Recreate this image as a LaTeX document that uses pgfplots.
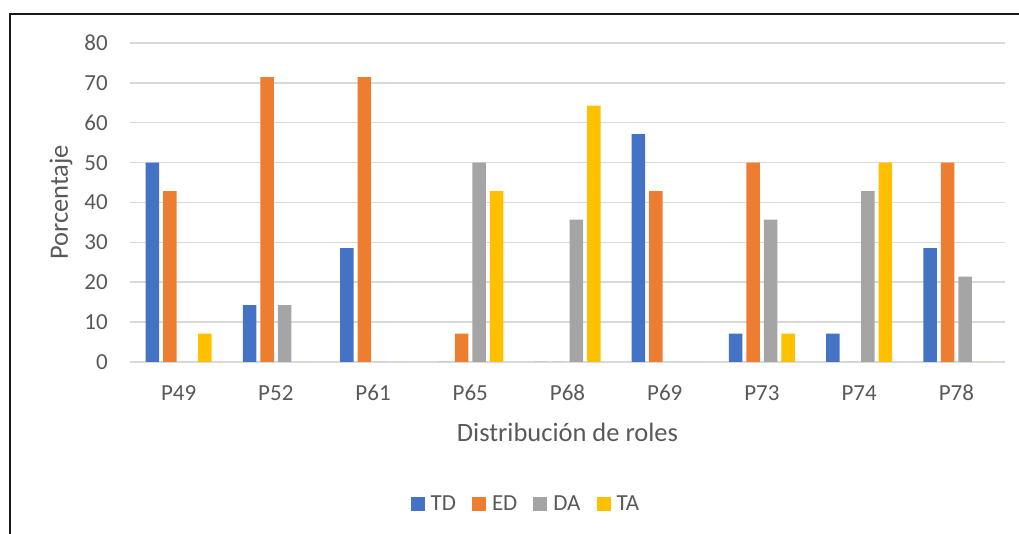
\documentclass[border=0pt]{standalone}
\usepackage{fontspec}
\setmainfont{Carlito}
\usepackage{pgfplots}
\usepackage{pgfplotstable}
\pgfplotsset{compat=1.18}

\definecolor{tdblue}{HTML}{4472C4}
\definecolor{edorange}{HTML}{ED7D31}
\definecolor{dagray}{HTML}{A5A5A5}
\definecolor{tayellow}{HTML}{FFC000}
\definecolor{gridgray}{HTML}{D9D9D9}
\definecolor{txtgray}{HTML}{595959}

% percentages per question (P49 ... P78)
\pgfplotstableread{
x  TD     ED     DA     TA
0  50.00  42.86  0      7.14
1  14.29  71.43  14.29  0
2  28.57  71.43  0      0
3  0      7.14   50.00  42.86
4  0      0      35.71  64.29
5  57.14  42.86  0      0
6  7.14   50.00  35.71  7.14
7  7.14   0      42.86  50.00
8  28.57  50.00  21.43  0
}\roles

\begin{document}
\begin{tikzpicture}
\begin{axis}[
  at={(0pt,0pt)}, anchor=south west,
  scale only axis,
  width=875pt, height=319pt,
  ybar=4pt, bar width=13.5pt,
  xmin=-0.5, xmax=8.5,
  ymin=0, ymax=80,
  ytick={0,10,...,80},
  xtick={0,...,8},
  xticklabels={P49,P52,P61,P65,P68,P69,P73,P74,P78},
  ymajorgrids,
  grid style={color=gridgray, line width=1.5pt},
  axis line style={draw=none},
  major tick length=0pt,
  /pgf/number format/assume math mode=true,
  tick label style={font=\fontsize{23}{27}\selectfont, text=txtgray, inner sep=0pt},
  xticklabel style={anchor=base, yshift=-39pt},
  yticklabel style={anchor=east, xshift=-22pt},
  xlabel={Distribución de roles},
  ylabel={Porcentaje},
  label style={font=\fontsize{26.5}{31}\selectfont, text=txtgray},
  every axis x label/.append style={at={(axis description cs:0.5,-0.2194)}, anchor=center},
  every axis y label/.append style={at={(axis description cs:-0.0789,0.5)}, anchor=center},
  legend columns=4,
  legend style={at={(axis description cs:0.4531,-0.4451)}, anchor=center,
    draw=none, fill=none, font=\fontsize{23}{27}\selectfont, text=txtgray,
    nodes={inner sep=3pt},
    /tikz/every even column/.append style={column sep=13pt}},
  legend image code/.code={\fill[#1] (0pt,-7pt) rectangle (14pt,7pt); \path (17pt,0pt);},
]
\addplot[fill=tdblue, draw=none] table[x=x, y=TD] {\roles};
\addplot[fill=edorange, draw=none] table[x=x, y=ED] {\roles};
\addplot[fill=dagray, draw=none] table[x=x, y=DA] {\roles};
\addplot[fill=tayellow, draw=none] table[x=x, y=TA] {\roles};
\legend{TD,ED,DA,TA}
\end{axis}
\draw[line width=2pt, black!90] (-120pt,-250pt) -- (-120pt,348pt) -- (950pt,348pt);
\pgfresetboundingbox
\useasboundingbox (-130pt,-172pt) rectangle (889pt,362pt);
\end{tikzpicture}
\end{document}
